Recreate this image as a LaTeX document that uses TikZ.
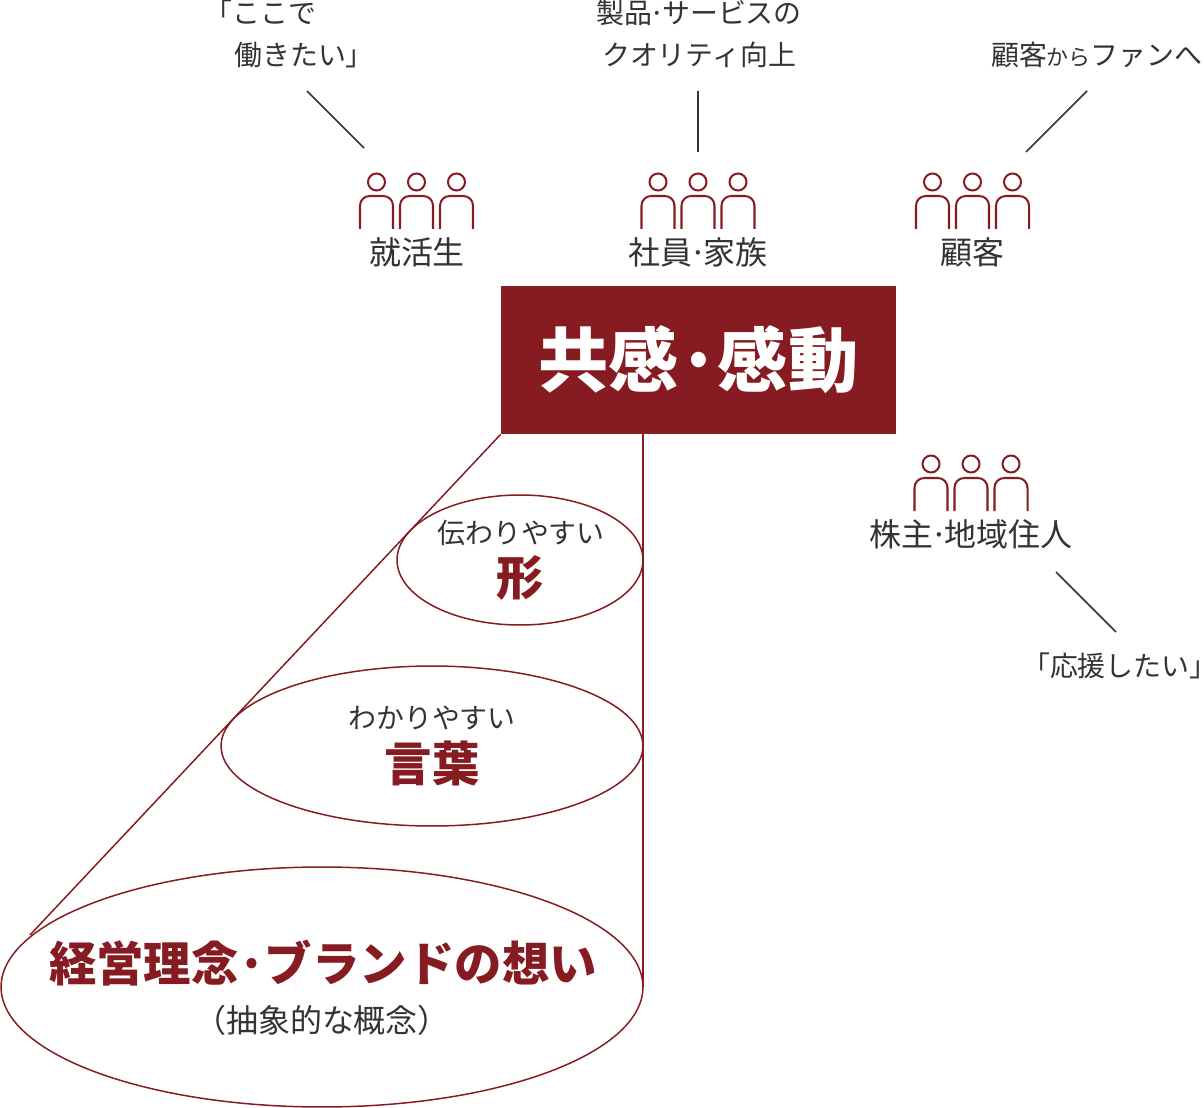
\documentclass[tikz,border=0pt]{standalone}
\usepackage{fontspec}
\setmainfont{Noto Sans CJK JP}
\newfontfamily\halfwidth{Noto Sans CJK JP}[RawFeature=+halt]
\usetikzlibrary{positioning,shapes.geometric}
\definecolor{brandred}{HTML}{861C21}
\definecolor{inkgray}{HTML}{333333}
\newcommand{\thindot}{\kern-.1em·\kern-.1em}
\newcommand{\bolddot}{\kern-.03em·\kern-.03em}
\tikzset{
    person/.pic={
        \draw[brandred, line width=1.15pt] (0,-47) circle[radius=8.5];
        \draw[brandred, line width=1.15pt, rounded corners=5.5pt] (-16.5,0) -- (-16.5,-33) -- (16.5,-33) -- (16.5,0);
    },
    persons/.pic={
        \foreach \dx in {-40,0,40} \pic at (\dx,0) {person};
    },
    group/.style={text=inkgray, font=\fontsize{18.2}{22}\selectfont, inner sep=0pt},
    voice/.style={text=inkgray, font=\fontsize{15.9}{23.8}\selectfont, inner sep=0pt, align=left},
    leader/.style={inkgray, line width=0.85pt},
    bubble/.style={ellipse, draw=brandred, line width=0.85pt, inner sep=0pt},
    sub/.style={text=inkgray, font=\fontsize{15.9}{18}\selectfont, inner sep=0pt},
    keyword/.style={text=brandred, font=\fontsize{27}{32}\bfseries\selectfont, inner sep=0pt},
}
\begin{document}
\begin{tikzpicture}[x=0.02cm, y=-0.02cm]
    \useasboundingbox (0,0) rectangle (1204,1108);

    % top box
    \node[fill=brandred, text=white, minimum width=7.9cm, minimum height=2.96cm, inner sep=0pt,
          font=\fontsize{40}{48}\bfseries\selectfont] (empathy) at (698.5,360) {共感\bolddot 感動};

    % three levels
    \node[bubble, minimum width=4.92cm, minimum height=2.6cm] (formring) at (520,560) {};
    \node[bubble, minimum width=8.44cm, minimum height=3.2cm] (wordring) at (432,746) {};
    \node[bubble, minimum width=12.84cm, minimum height=4.8cm] (idearing) at (322,987) {};
    \coordinate (conetip) at (30,935);
    \coordinate (coneright) at (643,434);
    \coordinate (conefoot) at (643,987);
    \draw[brandred, line width=0.85pt] (empathy.south west) -- (conetip);
    \draw[brandred, line width=0.85pt] (coneright) -- (conefoot);

    \node[sub] (formsub) at (521,533) {伝わりやすい};
    \node[keyword] (formkey) at (520,578) {形};
    \node[sub] (wordsub) at (432,718) {わかりやすい};
    \node[keyword] (wordkey) at (432,763) {言葉};
    \node[keyword] (ideakey) at (323,963) {経営理念\bolddot ブランドの想い};
    \node[group] (ideasub) at (322,1020) {（抽象的な概念）};

    % people
    \pic at (416.5,229) {persons};
    \pic at (698,229) {persons};
    \pic at (972.5,229) {persons};
    \pic at (971,511) {persons};
    \node[group] (student) at (417,252.5) {就活生};
    \node[group] (staff) at (698,252.5) {社員\thindot 家族};
    \node[group] (client) at (972,252.5) {顧客};
    \node[group] (holder) at (971,534.5) {株主\thindot 地域住人};

    % voices
    \node[voice, anchor=west] (voicea) at (204,34) {「ここで\\\hspace{17pt}働きたい」};
    \node[voice, align=center] (voiceb) at (699,34) {製品\thindot サービスの\\クオリティ向上};
    \node[voice, anchor=east] (voicec) at (1203,55) {顧客{\fontsize{12.5}{14}\selectfont から}ファンへ};
    \node[voice, anchor=east] (voiced) at (1204,666) {{\halfwidth 「}応援したい{\halfwidth 」}};

    \coordinate (leadaa) at (307,91);
    \coordinate (leadab) at (364,148);
    \coordinate (leadba) at (698,91);
    \coordinate (leadbb) at (698,152);
    \coordinate (leadca) at (1087,91);
    \coordinate (leadcb) at (1026,152);
    \coordinate (leadda) at (1056,572);
    \coordinate (leaddb) at (1116,632);
    \draw[leader] (leadaa) -- (leadab);
    \draw[leader] (leadba) -- (leadbb);
    \draw[leader] (leadca) -- (leadcb);
    \draw[leader] (leadda) -- (leaddb);
\end{tikzpicture}
\end{document}
